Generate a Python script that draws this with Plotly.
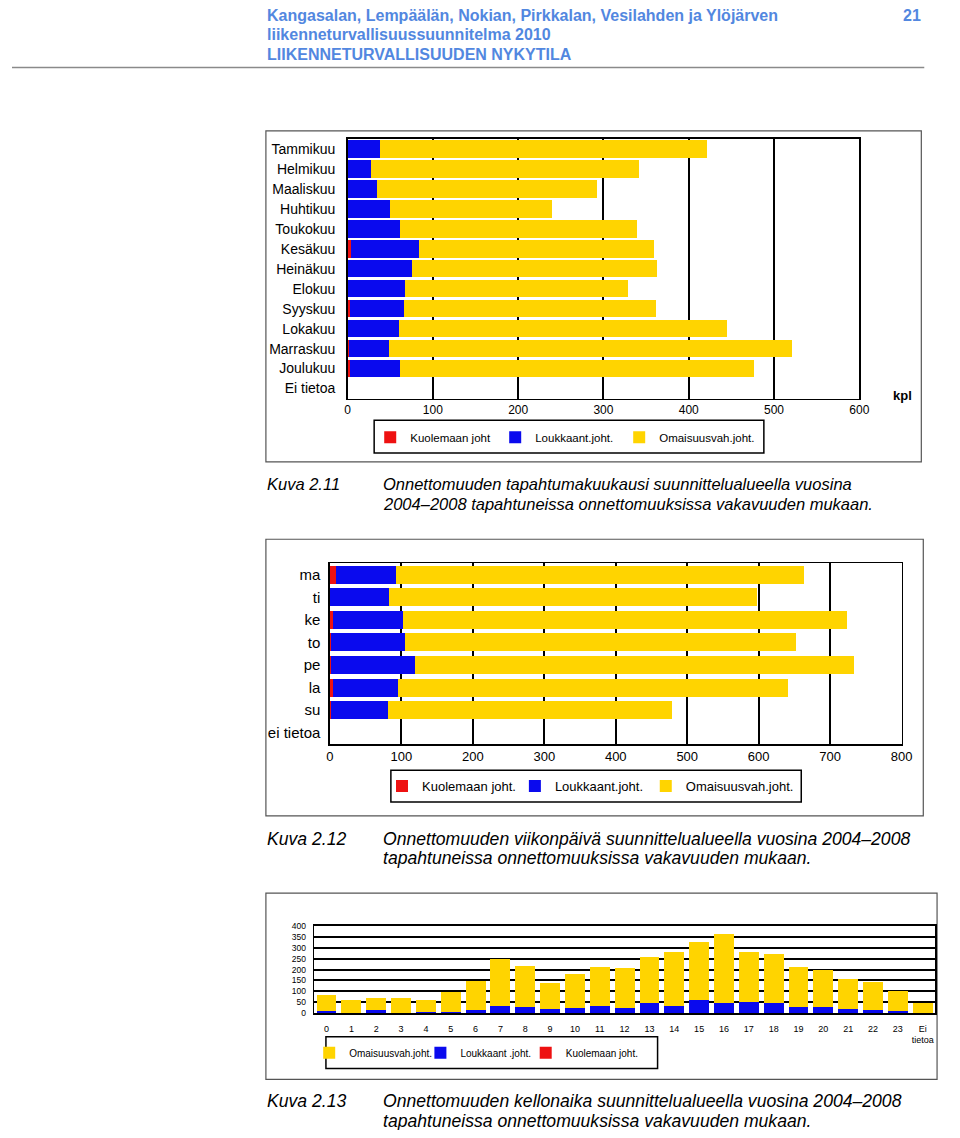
import plotly.graph_objects as go

# ---------------- DATA ----------------
months = ["Tammikuu", "Helmikuu", "Maaliskuu", "Huhtikuu", "Toukokuu", "Kesäkuu",
          "Heinäkuu", "Elokuu", "Syyskuu", "Lokakuu", "Marraskuu", "Joulukuu", "Ei tietoa"]
month_kuol = [1, 0, 1, 1, 1, 4, 0, 1, 3, 0, 2, 3, 0]
month_louk = [37, 28, 34, 49, 61, 80, 75, 66, 63, 60, 47, 59, 0]
month_omai = [383, 314, 257, 190, 277, 275, 288, 262, 296, 385, 472, 414, 0]

days = ["ma", "ti", "ke", "to", "pe", "la", "su", "ei tietoa"]
day_kuol = [9, 0, 4, 2, 2, 5, 1, 0]
day_louk = [83, 83, 99, 103, 117, 90, 81, 0]
day_omai = [571, 514, 620, 547, 614, 546, 397, 0]

hours = [str(h) for h in range(24)] + ["Ei tietoa"]
hour_ticktext = [str(h) for h in range(24)] + ["Ei<br>tietoa"]
hour_kuol = [1, 0, 1, 0, 0, 1, 1, 1, 0, 1, 0, 1, 0, 1, 1, 1, 1, 1, 1, 1, 1, 0, 1, 1, 0]
hour_louk = [8, 3, 13, 3, 8, 7, 13, 33, 28, 19, 23, 32, 22, 47, 34, 58, 47, 50, 47, 27, 27, 19, 13, 8, 0]
hour_omai = [75, 57, 54, 65, 51, 90, 135, 215, 186, 119, 155, 180, 186, 211, 247, 267, 313, 231, 222, 185, 170, 138, 131, 93, 47]

legend_names_1 = ["Kuolemaan joht", "Loukkaant.joht.", "Omaisuusvah.joht."]
legend_names_2 = ["Kuolemaan joht.", "Loukkaant.joht.", "Omaisuusvah.joht."]
legend_names_3 = ["Kuolemaan joht.", "Loukkaant .joht.", "Omaisuusvah.joht."]

header_lines = ["Kangasalan, Lempäälän, Nokian, Pirkkalan, Vesilahden ja Ylöjärven",
                "liikenneturvallisuussuunnitelma 2010",
                "LIIKENNETURVALLISUUDEN NYKYTILA"]
page_number = "21"
captions = [
    ("Kuva 2.11", ["Onnettomuuden tapahtumakuukausi suunnittelualueella vuosina",
                   "2004–2008 tapahtuneissa onnettomuuksissa vakavuuden mukaan."]),
    ("Kuva 2.12", ["Onnettomuuden viikonpäivä suunnittelualueella vuosina 2004–2008",
                   "tapahtuneissa onnettomuuksissa vakavuuden mukaan."]),
    ("Kuva 2.13", ["Onnettomuuden kellonaika suunnittelualueella vuosina 2004–2008",
                   "tapahtuneissa onnettomuuksissa vakavuuden mukaan."]),
]

# ---------------- STYLE ----------------
# The page body keeps the browser's default 8px margin, so the figure is sized
# to fill the 960x1138 window exactly inside that margin.
PAGE_W, PAGE_H, M = 960, 1138, 8
W, H = PAGE_W - 2 * M, PAGE_H - 2 * M
RED, BLUE, YEL = "#EE1111", "#0A0AEE", "#FFD400"
FONT = "Liberation Sans, Arial, sans-serif"
HEAD_BLUE = "#5287E0"


def px(x):
    """window x (pixels) -> paper fraction"""
    return (x - M) / W


def py(y):
    """window y (pixels, from top) -> paper fraction"""
    return 1 - (y - M) / H


fig = go.Figure()

# Chart 1: months (horizontal stacked)
for i, (name, vals, col) in enumerate(zip(legend_names_1, [month_kuol, month_louk, month_omai], [RED, BLUE, YEL])):
    fig.add_trace(go.Bar(y=months, x=vals, name=name, orientation="h", marker_color=col,
                         marker_line_width=0, xaxis="x", yaxis="y",
                         legend="legend" if i == 0 else f"legend{i + 1}"))

# Chart 2: weekdays
for i, (name, vals, col) in enumerate(zip(legend_names_2, [day_kuol, day_louk, day_omai], [RED, BLUE, YEL])):
    fig.add_trace(go.Bar(y=days, x=vals, name=name, orientation="h", marker_color=col,
                         marker_line_width=0, width=0.8, xaxis="x2", yaxis="y2", legend=f"legend{i + 4}"))

# Chart 3: hours (vertical stacked); red bottom, blue, yellow on top
for i, (name, vals, col) in enumerate(zip(legend_names_3, [hour_kuol, hour_louk, hour_omai], [RED, BLUE, YEL])):
    fig.add_trace(go.Bar(x=hours, y=vals, name=name, marker_color=col,
                         marker_line_width=0, width=0.8, xaxis="x3", yaxis="y3", legend=f"legend{i + 7}"))

axis_common = dict(showline=True, linecolor="black", mirror=True, zeroline=False,
                   ticks="", color="black", fixedrange=True)

# one legend per entry, placed where the reference draws it (x = entry start, y = centre)
legend_spots = [(372, 436, 11.5), (499, 436, 11.5), (625, 436, 11.5),
                (384, 788, 13), (519, 788, 13), (652, 788, 13),
                (530, 1057, 10), (423, 1057, 10), (310, 1057, 10)]
legend_layout = {}
for k, (lx, ly, fs) in enumerate(legend_spots):
    key = "legend" if k == 0 else f"legend{k + 1}"
    legend_layout[key] = dict(x=px(lx), y=py(ly), xanchor="left", yanchor="middle",
                              orientation="h", bgcolor="rgba(0,0,0,0)", borderwidth=0,
                              font=dict(size=fs, color="black"),
                              itemclick=False, itemdoubleclick=False)

fig.update_layout(
    width=W, height=H, autosize=False,
    margin=dict(l=0, r=0, t=0, b=0),
    paper_bgcolor="white", plot_bgcolor="white",
    barmode="stack", showlegend=True,
    font=dict(family=FONT, color="black"),
    xaxis=dict(domain=[px(349), px(869)], range=[0, 600], dtick=100, anchor="y",
               showgrid=True, gridcolor="black", gridwidth=2, linewidth=1.5,
               tickfont=dict(size=12), **axis_common),
    yaxis=dict(domain=[py(397), py(135)], anchor="x", type="category",
               categoryorder="array", categoryarray=months,
               range=[len(months) - 0.5, -0.5], showgrid=False, linewidth=1.5,
               tickfont=dict(size=14), ticklabelstandoff=8, **axis_common),
    xaxis2=dict(domain=[px(331), px(912)], range=[0, 800], dtick=100, anchor="y2",
                showgrid=True, gridcolor="black", gridwidth=2, linewidth=1.5,
                tickfont=dict(size=13), **axis_common),
    yaxis2=dict(domain=[py(745.7), py(563.3)], anchor="x2", type="category",
                categoryorder="array", categoryarray=days,
                range=[len(days) - 0.5, -0.5], showgrid=False, linewidth=1.5,
                tickfont=dict(size=15), ticklabelstandoff=5, **axis_common),
    xaxis3=dict(domain=[px(315), px(946)], anchor="y3", type="category",
                categoryorder="array", categoryarray=hours,
                tickvals=hours, ticktext=hour_ticktext,
                range=[-0.5, len(hours) - 0.5], showgrid=False, linewidth=1.5,
                tickfont=dict(size=9), ticklabelstandoff=6, **axis_common),
    yaxis3=dict(domain=[py(1017.3), py(929)], anchor="x3", range=[0, 400], dtick=50,
                showgrid=True, gridcolor="black", gridwidth=2, linewidth=1.5,
                tickfont=dict(size=8.5), ticklabelstandoff=5, **axis_common),
    bargap=0.12,
    **legend_layout,
)

shapes = []
# outer frames of the three figures
for (x0, y0, x1, y1) in [(266, 127, 932, 461), (266, 539, 934, 818), (266, 896, 948, 1084)]:
    shapes.append(dict(type="rect", xref="paper", yref="paper", x0=px(x0), x1=px(x1),
                       y0=py(y1), y1=py(y0), line=dict(color="#555555", width=1.2),
                       fillcolor="rgba(0,0,0,0)", layer="below"))
# legend boxes
for (x0, y0, x1, y1) in [(376, 419, 772, 452), (393, 772, 810, 804), (327, 1041, 664, 1073)]:
    shapes.append(dict(type="rect", xref="paper", yref="paper", x0=px(x0), x1=px(x1),
                       y0=py(y1), y1=py(y0), line=dict(color="black", width=1.5),
                       fillcolor="rgba(0,0,0,0)"))
# header rule
shapes.append(dict(type="line", xref="paper", yref="paper", x0=0, x1=px(935),
                   y0=py(63), y1=py(63), line=dict(color="#8a8a8a", width=1.5)))

annotations = []
for txt, yy in zip(header_lines, [11, 30, 50]):
    annotations.append(dict(text=txt, x=px(265), y=py(yy), xref="paper", yref="paper",
                            xanchor="left", yanchor="middle", showarrow=False,
                            font=dict(family=FONT, size=16, color=HEAD_BLUE, weight="bold")))
annotations.append(dict(text=page_number, x=px(934), y=py(11), xref="paper", yref="paper",
                        xanchor="right", yanchor="middle", showarrow=False,
                        font=dict(family=FONT, size=16, color=HEAD_BLUE, weight="bold")))
annotations.append(dict(text="<b>kpl</b>", x=px(913), y=py(394), xref="paper", yref="paper",
                        xanchor="center", yanchor="middle", showarrow=False,
                        font=dict(size=13, color="black")))

cap_y = [(483, 503), (841, 861), (1106, 1126)]
cap_sizes = [16.5, 17.6, 17.6]
for (label, lines), (y1, y2), fs in zip(captions, cap_y, cap_sizes):
    annotations.append(dict(text=label, x=px(265), y=py(y1), xref="paper", yref="paper",
                            xanchor="left", yanchor="middle", showarrow=False,
                            font=dict(size=fs, style="italic", color="black")))
    for ln, yy in zip(lines, (y1, y2)):
        annotations.append(dict(text=ln, x=px(383), y=py(yy), xref="paper", yref="paper",
                                xanchor="left", yanchor="middle", showarrow=False,
                                font=dict(size=fs, style="italic", color="black")))

fig.update_layout(shapes=shapes, annotations=annotations)
fig.write_html("out.html", config={"displayModeBar": False, "staticPlot": True},
               post_script="document.documentElement.style.overflow='hidden';")
